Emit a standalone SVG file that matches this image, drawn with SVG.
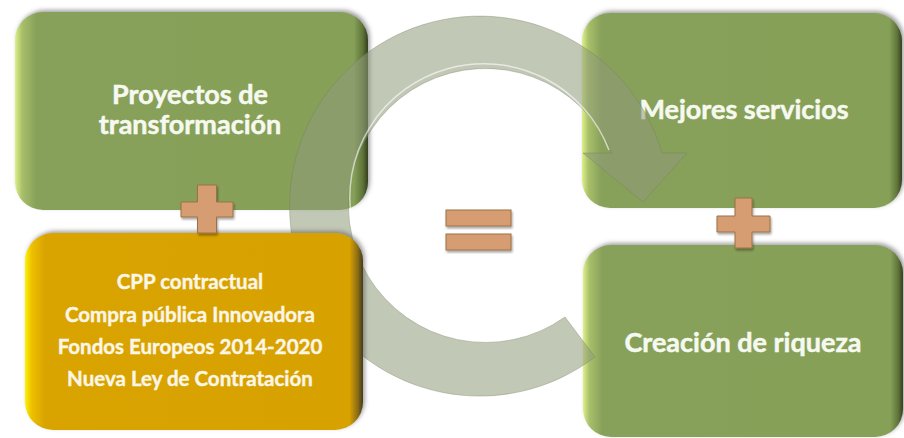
<svg xmlns="http://www.w3.org/2000/svg" width="904" height="438" viewBox="0 0 904 438">
  <defs>
    <linearGradient id="gGreen" x1="0" y1="0" x2="1" y2="0">
      <stop offset="0" stop-color="#dff08a"/>
      <stop offset="0.02" stop-color="#a8c06a"/>
      <stop offset="0.06" stop-color="#88a15a"/>
      <stop offset="0.96" stop-color="#86a059"/>
      <stop offset="0.985" stop-color="#5f7439"/>
      <stop offset="1" stop-color="#363f20"/>
    </linearGradient>
    <linearGradient id="gGold" x1="0" y1="0" x2="1" y2="0">
      <stop offset="0" stop-color="#fff200"/>
      <stop offset="0.02" stop-color="#ecc000"/>
      <stop offset="0.06" stop-color="#d9a300"/>
      <stop offset="0.96" stop-color="#d7a100"/>
      <stop offset="0.985" stop-color="#8a6b14"/>
      <stop offset="1" stop-color="#403c1e"/>
    </linearGradient>
    <filter id="shadow" x="-10%" y="-10%" width="120%" height="120%">
      <feGaussianBlur in="SourceAlpha" stdDeviation="2"/>
      <feOffset dx="2" dy="-2" result="b"/>
      <feFlood flood-color="#555" flood-opacity="0.55"/>
      <feComposite in2="b" operator="in"/>
      <feMerge><feMergeNode/><feMergeNode in="SourceGraphic"/></feMerge>
    </filter>
    <filter id="signShadow" x="-20%" y="-20%" width="140%" height="140%">
      <feGaussianBlur in="SourceAlpha" stdDeviation="1.2"/>
      <feOffset dx="1" dy="2" result="b"/>
      <feFlood flood-color="#000" flood-opacity="0.35"/>
      <feComposite in2="b" operator="in"/>
      <feMerge><feMergeNode/><feMergeNode in="SourceGraphic"/></feMerge>
    </filter>
    <style>
      .green { fill: url(#gGreen); filter: url(#shadow); }
      .gold { fill: url(#gGold); filter: url(#shadow); }
      .big { font-family: Lato, "Liberation Sans", sans-serif; font-weight: 700; font-size: 27px; fill: #f6f9f0; stroke: #f6f9f0; stroke-width: 0.5; text-anchor: middle; }
      .small { font-family: Lato, "Liberation Sans", sans-serif; font-weight: 700; font-size: 20.5px; fill: #fbf6e6; stroke: #fbf6e6; stroke-width: 0.4; text-anchor: middle; }
      .sign { fill: #d69c72; stroke: #9b7244; stroke-width: 1; filter: url(#signShadow); }
      .ring { fill: #8f9a7a; fill-opacity: 0.55; stroke: #6f7a5a; stroke-opacity: 0.35; stroke-width: 1; }
      .hl { fill: none; stroke: #ffffff; stroke-opacity: 0.6; stroke-width: 1.5; }
    </style>
  </defs>

  <g id="node-proyectos">
    <rect class="green" x="15" y="12" width="353" height="198" rx="28" ry="28"/>
    <text class="big" x="190" y="104">Proyectos de</text>
    <text class="big" x="190" y="134">transformación</text>
  </g>

  <g id="node-mejores">
    <rect class="green" x="582" y="13" width="320" height="195" rx="28" ry="28"/>
    <text class="big" x="744" y="119">Mejores servicios</text>
  </g>

  <g id="node-creacion">
    <rect class="green" x="583" y="245" width="320" height="192" rx="28" ry="28"/>
    <text class="big" x="743" y="352">Creación de riqueza</text>
  </g>

  <g id="connectors">
    <path class="ring" d="M595,357 A190,190 0 1 1 662,153 L687,153 L643,202 L583,153 L612,153 A137,137 0 1 0 565,317 Z"/>
    <path class="hl" d="M609,150 A134,134 0 0 0 352,222"/>
  </g>

  <g id="node-cpp">
    <rect class="gold" x="25" y="233" width="338" height="197" rx="28" ry="28"/>
    <text class="small" x="190" y="289">CPP contractual</text>
    <text class="small" x="190" y="322">Compra pública Innovadora</text>
    <text class="small" x="190" y="354">Fondos Europeos 2014-2020</text>
    <text class="small" x="190" y="386">Nueva Ley de Contratación</text>
  </g>

  <g id="plus-left">
    <path class="sign" d="M197.5,185 H216.5 V202 H233 V217 H216.5 V233 H197.5 V217 H181 V202 H197.5 Z"/>
  </g>
  <g id="plus-right">
    <path class="sign" d="M735,198 H752 V216 H770 V232 H752 V248 H735 V232 H717 V216 H735 Z"/>
  </g>
  <g id="equals">
    <rect class="sign" x="446" y="210" width="65" height="16"/>
    <rect class="sign" x="446" y="234" width="65" height="16"/>
  </g>
</svg>
